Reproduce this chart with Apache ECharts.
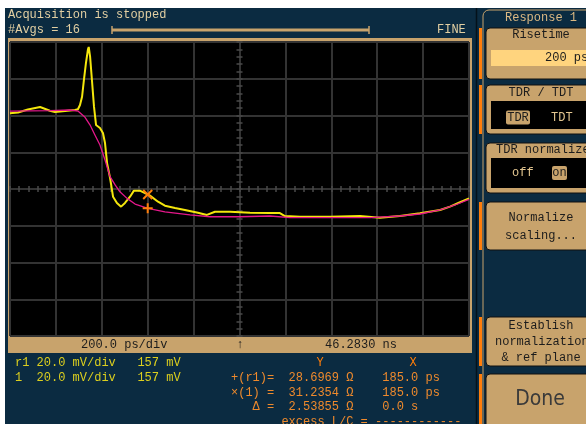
<!DOCTYPE html>
<html>
<head>
<meta charset="utf-8">
<script src="https://cdn.jsdelivr.net/npm/echarts@6/dist/echarts.min.js"></script>
<style>
html,body{margin:0;padding:0;background:#ffffff;}
#scope{width:586px;height:424px;}
</style>
</head>
<body>
<div id="scope"></div>
<script>
// Channel 1 (yellow) TDR trace: time in ps relative to screen centre, level in mV relative to offset
const ch1Time = [-1000,-965,-922,-869,-826,-804,-760,-717,-704,-695,-686,-678,-669,-660,-657,-651,-643,-634,-625,-608,-595,-586,-577,-564,-551,-534,-516,-499,-477,-460,-434,-412,-390,-355,-325,-281,-238,-181,-142,-107,-41,46,133,176,198,264,394,525,612,699,786,874,917,961,1000];
const ch1Mv   = [41.2,41.6,43.3,44.6,42.6,41.9,42.4,43.0,43.4,45.7,50.2,59.3,68.6,76.2,77.3,72.0,59.3,44.8,34.8,33.2,30.5,25.0,14.1,6.0,-4.2,-7.6,-9.6,-7.6,-4.2,-0.9,-0.9,-2.2,-3.6,-6.9,-9.1,-10.3,-11.4,-12.9,-14.1,-12.4,-12.4,-12.9,-13.1,-13.1,-14.7,-15.1,-15.1,-14.7,-15.6,-14.7,-13.2,-11.4,-9.6,-7.2,-5.1];

// Reference r1 (magenta) trace
const ref1Time = [-1000,-826,-739,-704,-673,-651,-630,-608,-586,-564,-542,-521,-490,-455,-399,-325,-216,-129,2,133,220,394,569,699,786,874,939,1000];
const ref1Mv   = [42.4,42.6,43.0,42.4,39.0,34.8,29.4,23.9,15.8,6.7,2.2,-1.5,-5.1,-8.2,-10.5,-12.4,-14.1,-15.1,-15.1,-14.7,-15.6,-15.6,-15.6,-14.7,-13.6,-11.4,-8.7,-5.6];

// Screen scale: 10 x 200 ps horizontally, 8 x 20 mV vertically
const timeMin = -1000, timeMax = 1000, timeStep = 200;
const voltMin = -80, voltMax = 80, voltStep = 20;

// Cursor position (ps)
const cursorTime = -400;

// Readout texts
const headerLines = ['Acquisition is stopped', '#Avgs = 16'];
const timebaseText = '200.0 ps/div';
const positionText = '46.2830 ns';
const channelLines = ['r1 20.0 mV/div   157 mV', '1  20.0 mV/div   157 mV'];
const cursorLines = ['+(r1)=  28.6969 \u03a9    185.0 ps', '\u00d7(1) =  31.2354 \u03a9    185.0 ps', '   \u0394 =  2.53855 \u03a9    0.0 s', '       excess L/C = ------------'];

const NAVY = '#0b2b41', TAN = '#c8a36c', TAN_TXT = '#dcb983', HEAD = '#e2cfa2';
const YEL = '#f4e60c', MAG = '#e4178a', ORANGE = '#ff7d0a', GRID = '#333333', TICK = '#4a4a4a';
const MONO = '"Liberation Mono","DejaVu Sans Mono",monospace';

function pairs(ts, vs) { return ts.map((t, i) => [t, vs[i]]); }
function interp(ts, vs, t) {
  for (let i = 1; i < ts.length; i++) {
    if (t <= ts[i]) {
      const f = (t - ts[i - 1]) / (ts[i] - ts[i - 1]);
      return vs[i - 1] + f * (vs[i] - vs[i - 1]);
    }
  }
  return vs[vs.length - 1];
}

function txt(x, y, s, color, align, font) {
  return { type: 'text', x: x, y: y, z: 30,
    style: { text: s, fill: color, font: font || ('12px ' + MONO),
      textAlign: align || 'left', align: align || 'left',
      textVerticalAlign: 'middle', verticalAlign: 'middle' } };
}
function box(x, y, w, h, fill, stroke, r, z) {
  return { type: 'rect', z: z == null ? 5 : z,
    shape: { x: x, y: y, width: w, height: h, r: r || 0 },
    style: { fill: fill, stroke: stroke || null, lineWidth: stroke ? 1 : 0 } };
}
function seg(x1, y1, x2, y2, color, w) {
  return { type: 'line', z: 6, shape: { x1: x1, y1: y1, x2: x2, y2: y2 }, style: { stroke: color, lineWidth: w } };
}

const DARK = '#1c1c1c';
const graphics = [
  box(5, 8, 581, 416, NAVY, null, 0, -20),
  box(8, 38, 464, 315, TAN, null, 0, -10),
  seg(476.5, 8, 476.5, 424, '#04111a', 1.5),
  // acquisition header
  txt(8, 15, headerLines[0], HEAD),
  txt(8, 30, headerLines[1], HEAD),
  seg(112, 30, 369, 30, TAN, 3),
  seg(112, 26, 112, 34, TAN, 1.5),
  seg(369, 26, 369, 34, TAN, 1.5),
  txt(437, 30, 'FINE', HEAD),
  // timebase bar
  txt(81, 345, timebaseText, DARK),
  txt(240, 345, '\u2191', DARK, 'center'),
  txt(325, 345, positionText, DARK),
  // channel readouts
  txt(15, 363, channelLines[0], '#dccf1e'),
  txt(15, 378, channelLines[1], '#dccf1e'),
  txt(320, 363, 'Y', ORANGE, 'center'),
  txt(413, 363, 'X', ORANGE, 'center'),
  txt(231, 378, cursorLines[0], '#ef8a2c'),
  txt(231, 393, cursorLines[1], '#ef8a2c'),
  txt(231, 407, cursorLines[2], '#ef8a2c'),
  txt(231, 422, cursorLines[3], '#ef8a2c'),
  // side menu
  { type: 'rect', z: 4, shape: { x: 483, y: 10, width: 120, height: 430, r: 6 }, style: { fill: null, stroke: TAN, lineWidth: 1 } },
  txt(541, 18, 'Response 1', TAN_TXT, 'center'),
  box(479, 28, 3, 51, ORANGE, null, 0, 6),
  box(479, 85, 3, 49, ORANGE, null, 0, 6),
  box(479, 202, 3, 48, ORANGE, null, 0, 6),
  box(479, 317, 3, 49, ORANGE, null, 0, 6),
  box(479, 374, 3, 50, ORANGE, null, 0, 6),

  box(486, 28, 110, 51, TAN, '#111', 4),
  txt(541, 35, 'Risetime', DARK, 'center'),
  box(491, 50, 100, 16, '#ffd47e', null, 0, 6),
  txt(545, 58, '200 ps', DARK),

  box(486, 85, 110, 49, TAN, '#111', 4),
  box(491, 101, 100, 28, '#000', null, 0, 6),
  txt(541, 93, 'TDR / TDT', DARK, 'center'),
  box(506, 110.5, 24, 14, TAN, null, 2, 7),
  txt(518, 117.5, 'TDR', DARK, 'center'),
  txt(551, 117.5, 'TDT', '#e4c791'),

  box(486, 143, 110, 50, TAN, '#111', 4),
  box(491, 158, 100, 30, '#000', null, 0, 6),
  txt(496, 150, 'TDR normalize', DARK),
  txt(512, 173, 'off', '#e4c791'),
  box(552, 166, 15, 14, TAN, null, 2, 7),
  txt(559.5, 173, 'on', DARK, 'center'),

  box(486, 202, 110, 48, TAN, '#111', 4),
  txt(541, 218, 'Normalize', DARK, 'center'),
  txt(541, 236, 'scaling...', DARK, 'center'),

  box(486, 317, 110, 49, TAN, '#111', 4),
  txt(541, 326, 'Establish', DARK, 'center'),
  txt(495, 342, 'normalization', DARK),
  txt(541, 358, '& ref plane', DARK, 'center'),

  box(486, 374, 110, 60, TAN, '#111', 4),
  txt(540, 400, 'Done', '#3a3a3a', 'center', '21px "Liberation Sans Narrow","DejaVu Sans Condensed",sans-serif')
];

const hidden = { show: false };
function baseX(extra) {
  return Object.assign({ type: 'value', min: timeMin, max: timeMax, interval: timeStep,
    axisLabel: hidden, splitLine: hidden, axisTick: hidden, axisLine: hidden }, extra);
}
function baseY(extra) {
  return Object.assign({ type: 'value', min: voltMin, max: voltMax, interval: voltStep,
    axisLabel: hidden, splitLine: hidden, axisTick: hidden, axisLine: hidden }, extra);
}
const centreLine = { show: true, onZero: true, onZeroAxisIndex: 0, lineStyle: { color: GRID, width: 2 } };
const tickStyle = { show: true, length: 3, inside: false, lineStyle: { color: TICK, width: 1.5 } };
const minorStyle = { show: true, splitNumber: 5, length: 3, lineStyle: { color: TICK, width: 1.5 } };

const chart = echarts.init(document.getElementById('scope'), null, { renderer: 'canvas' });
chart.setOption({
  backgroundColor: '#ffffff',
  animation: false,
  grid: { left: 10, top: 42, width: 459, height: 294, show: true, backgroundColor: '#000000', borderWidth: 0 },
  xAxis: [
    baseX({ splitLine: { show: true, lineStyle: { color: GRID, width: 2 } } }),
    baseX({ position: 'bottom', axisLine: centreLine, axisTick: tickStyle, minorTick: minorStyle }),
    baseX({ position: 'top', axisLine: centreLine, axisTick: tickStyle, minorTick: minorStyle })
  ],
  yAxis: [
    baseY({ splitLine: { show: true, lineStyle: { color: GRID, width: 2 } } }),
    baseY({ position: 'left', axisLine: centreLine, axisTick: tickStyle, minorTick: minorStyle }),
    baseY({ position: 'right', axisLine: centreLine, axisTick: tickStyle, minorTick: minorStyle })
  ],
  graphic: { elements: graphics },
  series: [
    {
      name: 'Ch1', type: 'line', xAxisIndex: 0, yAxisIndex: 0,
      data: pairs(ch1Time, ch1Mv), showSymbol: false, z: 3,
      lineStyle: { color: YEL, width: 2 },
      markPoint: {
        silent: true, label: hidden,
        symbol: 'path://M0,0L10,10M10,0L0,10', symbolSize: 9,
        itemStyle: { color: 'transparent', borderColor: ORANGE, borderWidth: 2 },
        data: [{ coord: [cursorTime, interp(ch1Time, ch1Mv, cursorTime)] }]
      }
    },
    {
      name: 'r1', type: 'line', xAxisIndex: 0, yAxisIndex: 0,
      data: pairs(ref1Time, ref1Mv), showSymbol: false, z: 4,
      lineStyle: { color: MAG, width: 1.3 },
      markPoint: {
        silent: true, label: hidden,
        symbol: 'path://M5,0L5,10M0,5L10,5', symbolSize: 10,
        itemStyle: { color: 'transparent', borderColor: ORANGE, borderWidth: 2 },
        data: [{ coord: [cursorTime, interp(ref1Time, ref1Mv, cursorTime)] }]
      }
    }
  ]
});
</script>
</body>
</html>
